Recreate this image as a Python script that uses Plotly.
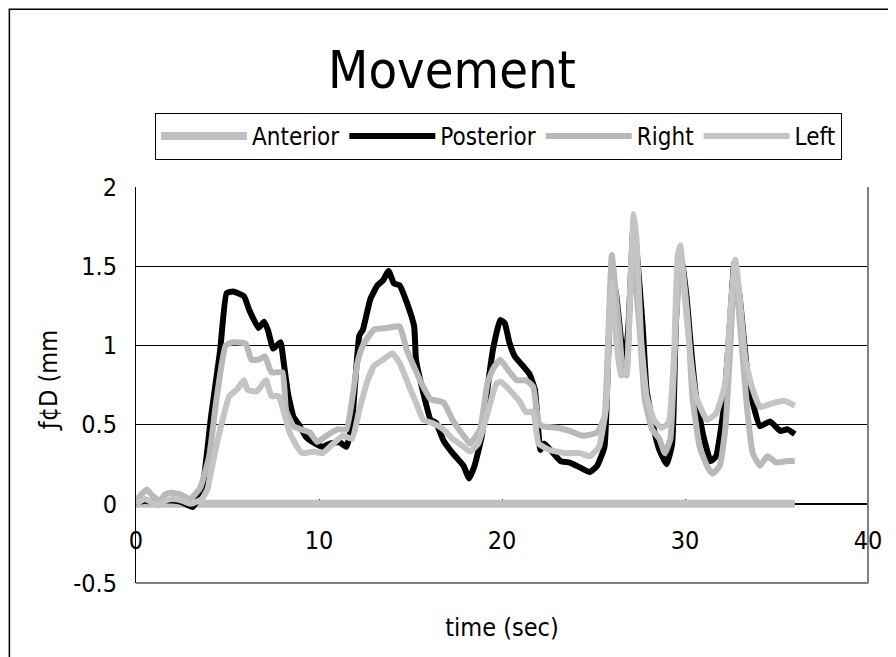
import plotly.graph_objects as go

# ---------------- data ----------------
anterior_t = [0, 36]
anterior_v = [0, 0]

posterior_t = [0, 0.5, 1.0, 1.5, 2.0, 2.5, 3.1, 3.6, 4.1, 4.6, 4.95, 5.3, 5.9, 6.2, 6.7, 7.0, 7.2, 7.5,
               7.9, 8.05, 8.3, 8.6, 8.9, 9.3, 9.8, 10.2, 10.6, 11.1, 11.5, 11.8, 12.2, 12.4, 12.8,
               13.2, 13.5, 13.8, 14.1, 14.4, 14.8, 15.2, 15.3, 15.7, 16.1, 16.4, 16.8, 17.3, 17.9,
               18.2, 18.5, 18.9, 19.2, 19.5, 19.9, 20.15, 20.4, 20.7, 21.15, 21.5, 21.8, 22.1,
               22.3, 22.8, 23.2, 23.7, 24.25, 24.8, 25.2, 25.6, 25.8, 26.0, 26.25, 26.5, 26.7,
               26.9, 27.2, 27.5, 27.7, 27.9, 28.3, 28.6, 29.0, 29.3, 29.5, 29.75, 30.1, 30.3,
               30.6, 31.0, 31.4, 31.7, 32.1, 32.4, 32.7, 33.0, 33.4, 33.7, 34.1, 34.65, 35.2,
               35.6, 36.0]
posterior_v = [0.01, 0.02, 0.01, 0.02, 0.02, 0.01, -0.02, 0.08, 0.55, 0.97, 1.33, 1.34, 1.31, 1.22,
               1.11, 1.15, 1.10, 0.98, 1.02, 0.91, 0.70, 0.55, 0.50, 0.42, 0.38, 0.36, 0.38, 0.39,
               0.36, 0.51, 1.06, 1.10, 1.29, 1.38, 1.41, 1.47, 1.39, 1.38, 1.27, 1.12, 0.91, 0.70,
               0.53, 0.51, 0.40, 0.32, 0.24, 0.16, 0.24, 0.43, 0.72, 0.97, 1.16, 1.14, 1.02, 0.93,
               0.87, 0.82, 0.72, 0.34, 0.38, 0.32, 0.27, 0.26, 0.23, 0.20, 0.24, 0.36, 0.93, 1.44,
               1.31, 1.04, 0.89, 1.10, 1.78, 1.40, 1.10, 0.72, 0.47, 0.34, 0.25, 0.38, 1.14, 1.60,
               1.29, 1.02, 0.68, 0.43, 0.27, 0.30, 0.59, 1.04, 1.52, 1.29, 0.83, 0.64, 0.49, 0.52,
               0.46, 0.47, 0.44]

right_t = [0, 0.3, 0.6, 0.9, 1.3, 1.6, 1.9, 2.4, 2.95, 3.5, 4.0, 4.4, 4.9, 5.3, 6.0, 6.3, 6.7, 7.05,
           7.4, 8.0, 8.2, 8.6, 9.0, 9.5, 9.9, 10.4, 11.0, 11.5, 12.1, 12.4, 13.0, 13.7, 14.4, 14.8,
           15.25, 15.6, 16.1, 16.8, 17.3, 17.9, 18.25, 18.8, 19.2, 19.5, 19.9, 20.3, 20.8, 21.3,
           21.7, 22.0, 22.2, 23.0, 23.7, 24.4, 25.2, 25.6, 25.8, 26.0, 26.2, 26.4, 26.6, 26.8,
           27.1, 27.5, 27.8, 28.2, 28.6, 28.9, 29.2, 29.5, 29.8, 30.2, 30.4, 30.8, 31.2, 31.5,
           31.9, 32.2, 32.5, 32.7, 33.0, 33.4, 33.7, 34.1, 34.5, 35.0, 35.6, 36.0]
right_v = [0.02, 0.06, 0.09, 0.05, 0.02, 0.06, 0.07, 0.06, 0.03, 0.10, 0.30, 0.66, 1.00, 1.02, 1.01,
           0.91, 0.91, 0.93, 0.83, 0.83, 0.59, 0.49, 0.47, 0.45, 0.39, 0.43, 0.47, 0.47, 0.89, 1.00,
           1.10, 1.11, 1.12, 0.97, 0.85, 0.76, 0.66, 0.64, 0.53, 0.43, 0.38, 0.47, 0.76, 0.85, 0.91,
           0.85, 0.78, 0.78, 0.74, 0.51, 0.49, 0.48, 0.46, 0.43, 0.45, 0.55, 1.04, 1.57, 1.35, 1.10,
           0.85, 0.81, 1.57, 1.14, 0.66, 0.47, 0.41, 0.32, 0.41, 1.14, 1.57, 1.08, 0.68, 0.36, 0.24,
           0.19, 0.24, 0.47, 1.04, 1.52, 1.14, 0.59, 0.32, 0.24, 0.30, 0.26, 0.27, 0.27]

left_t = [0, 0.5, 1.2, 1.6, 2.0, 2.5, 3.0, 3.6, 3.9, 4.2, 4.6, 5.1, 5.5, 5.9, 6.1, 6.6, 7.1, 7.4,
          7.8, 8.05, 8.4, 8.8, 9.1, 9.7, 10.2, 10.6, 11.3, 11.8, 12.2, 12.6, 13.0, 13.5, 14.0, 14.4,
          15.0, 15.3, 15.7, 16.2, 16.8, 17.3, 17.9, 18.25, 18.7, 19.2, 19.7, 19.95, 20.4, 21.0,
          21.3, 21.7, 22.0, 22.6, 23.5, 24.25, 24.8, 25.3, 25.7, 25.9, 26.0, 26.25, 26.5, 26.8,
          27.0, 27.2, 27.35, 27.6, 27.9, 28.3, 28.7, 29.1, 29.4, 29.6, 29.75, 30.0, 30.3, 30.6,
          31.2, 31.7, 32.2, 32.5, 32.75, 33.0, 33.3, 33.65, 34.1, 34.65, 35.4, 36.0]
left_v = [0.0, 0.03, -0.01, 0.02, 0.03, 0.02, 0.0, 0.03, 0.09, 0.26, 0.47, 0.68, 0.72, 0.78, 0.72,
          0.71, 0.78, 0.68, 0.68, 0.59, 0.45, 0.36, 0.32, 0.33, 0.32, 0.36, 0.43, 0.41, 0.59, 0.76,
          0.87, 0.91, 0.95, 0.89, 0.72, 0.64, 0.53, 0.51, 0.47, 0.41, 0.36, 0.33, 0.38, 0.57, 0.76,
          0.77, 0.72, 0.64, 0.58, 0.58, 0.38, 0.34, 0.32, 0.32, 0.30, 0.36, 0.62, 1.25, 1.40, 1.02,
          0.81, 0.83, 1.35, 1.83, 1.67, 1.04, 0.68, 0.53, 0.48, 0.51, 0.93, 1.57, 1.63, 1.29, 0.93,
          0.68, 0.53, 0.57, 0.76, 1.25, 1.54, 1.29, 0.91, 0.74, 0.61, 0.63, 0.65, 0.62]

x_ticks = [0, 10, 20, 30, 40]
y_ticks = [-0.5, 0, 0.5, 1, 1.5, 2]
y_tick_text = ["-0.5", "0", "0.5", "1", "1.5", "2"]

FONT = "DejaVu Sans Condensed, Liberation Sans Narrow, sans-serif"

fig = go.Figure()
fig.add_trace(go.Scatter(x=anterior_t, y=anterior_v, name="Anterior", mode="lines",
                         line=dict(color="#c0c0c0", width=8)))
fig.add_trace(go.Scatter(x=posterior_t, y=posterior_v, name="Posterior", mode="lines",
                         line=dict(color="#000000", width=6, shape="spline", smoothing=0.4)))
fig.add_trace(go.Scatter(x=right_t, y=right_v, name="Right", mode="lines",
                         line=dict(color="#b9b9b9", width=6, shape="spline", smoothing=0.4)))
fig.add_trace(go.Scatter(x=left_t, y=left_v, name="Left", mode="lines",
                         line=dict(color="#c4c4c4", width=6, shape="spline", smoothing=0.4)))

# page body has an 8px margin: figure is 888x649, plot area lands at x 136-868, y 187-583
fig.update_layout(
    width=888, height=649,
    margin=dict(l=128, r=28, t=179, b=74, autoexpand=False),
    paper_bgcolor="white", plot_bgcolor="white",
    font=dict(family=FONT, color="black", size=22),
    title=dict(text="Movement", x=0.5, xanchor="center", y=0.905, yanchor="middle",
               font=dict(family=FONT, size=52, color="black")),
    showlegend=True,
    legend=dict(orientation="h", x=0.026, xanchor="left", y=1.187, yanchor="top",
                bordercolor="black", borderwidth=1, bgcolor="white",
                font=dict(family=FONT, size=24), itemwidth=86, tracegroupgap=0),
    xaxis=dict(range=[0, 40], tickvals=x_ticks, ticktext=[str(v) for v in x_ticks],
               showgrid=False, zeroline=False, showline=True, linecolor="black", linewidth=1,
               ticks="inside", ticklen=5, tickcolor="black", anchor="free", position=0.2,
               ticklabelstandoff=14, layer="below traces",
               tickfont=dict(family=FONT, size=25),
               title=dict(text="time (sec)", standoff=64, font=dict(family=FONT, size=25))),
    yaxis=dict(range=[-0.5, 2], tickvals=y_ticks, ticktext=y_tick_text,
               showgrid=True, gridcolor="black", gridwidth=1, zeroline=False,
               showline=True, linecolor="black", linewidth=1, ticks="", layer="below traces",
               ticklabelstandoff=13, tickfont=dict(family=FONT, size=25)),
    annotations=[dict(text="ƒ¢D (mm", xref="paper", yref="paper", x=-0.12, y=0.51,
                      xanchor="center", yanchor="middle", textangle=-90, showarrow=False,
                      font=dict(family=FONT, size=25, color="black"))],
)

# plot-area border (right & bottom gray) and outer chart frame
fig.add_shape(type="line", xref="paper", yref="paper", x0=1, x1=1, y0=0, y1=1,
              line=dict(color="#808080", width=2))
fig.add_shape(type="line", xref="paper", yref="paper", x0=0, x1=1, y0=0, y1=0,
              line=dict(color="#808080", width=2))
fig.add_shape(type="rect", xref="paper", yref="paper", x0=-0.173, x1=1.2, y0=-0.3, y1=1.449,
              line=dict(color="black", width=1.5), layer="below")

fig.write_html("out.html")
